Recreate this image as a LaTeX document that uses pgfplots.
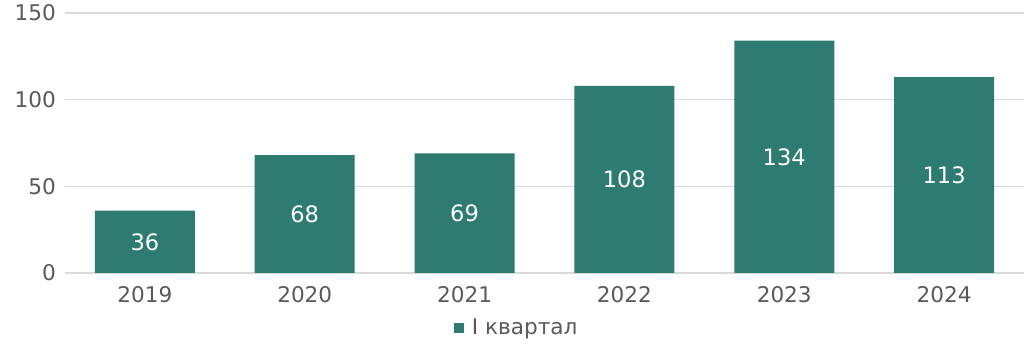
\documentclass[border=0pt]{standalone}
\usepackage{fontspec}
\setmainfont{DejaVu Sans}
\usepackage{pgfplots}
\usepackage{pgfplotstable}
\pgfplotsset{compat=1.18}
\definecolor{barc}{RGB}{46,123,113}
\definecolor{gridc}{RGB}{217,217,217}
\definecolor{txtc}{RGB}{89,89,89}
\pgfplotstableread{
x v
0 36
1 68
2 69
3 108
4 134
5 113
}\data
\begin{document}
\begin{tikzpicture}
\useasboundingbox (-32.5pt,-41.5pt) rectangle (479.5pt,136.5pt);
\begin{axis}[
  at={(0pt,0pt)}, anchor=south west,
  scale only axis, width=479.5pt, height=130pt,
  xmin=-0.5, xmax=5.5, ymin=0, ymax=150,
  xtick={0,...,5}, xticklabels={2019,2020,2021,2022,2023,2024},
  ytick={0,50,100,150},
  ymajorgrids, grid style={gridc, line width=0.6pt},
  axis x line*=bottom, axis y line*=left,
  y axis line style={draw=none},
  x axis line style={gridc, line width=0.6pt, -},
  major tick length=0pt,
  tick label style={font=\fontsize{10.8}{12}\selectfont, text=txtc},
  /pgf/number format/assume math mode=true,
  xticklabel style={yshift=-3pt},
  yticklabel style={xshift=-1pt},
  legend style={draw=none, fill=none, at={(0.472,-0.2115)}, anchor=center,
    font=\fontsize{10.8}{12}\selectfont, text=txtc, inner sep=0pt},
  legend image code/.code={\fill[barc] (-1pt,-2.5pt) rectangle (4pt,2.5pt);},
]
\addplot[ybar, bar width=50pt, fill=barc, draw=none] table[x=x, y=v] {\data};
\addlegendentry{\hspace{2pt}I квартал}
\addplot[draw=none, mark=none, forget plot, nodes near coords,
  point meta=explicit,
  every node near coord/.append style={anchor=center, text=white, font=\fontsize{11.3}{12}\selectfont}]
  table[x=x, y expr=\thisrow{v}/2, meta=v] {\data};
\end{axis}
\end{tikzpicture}
\end{document}
